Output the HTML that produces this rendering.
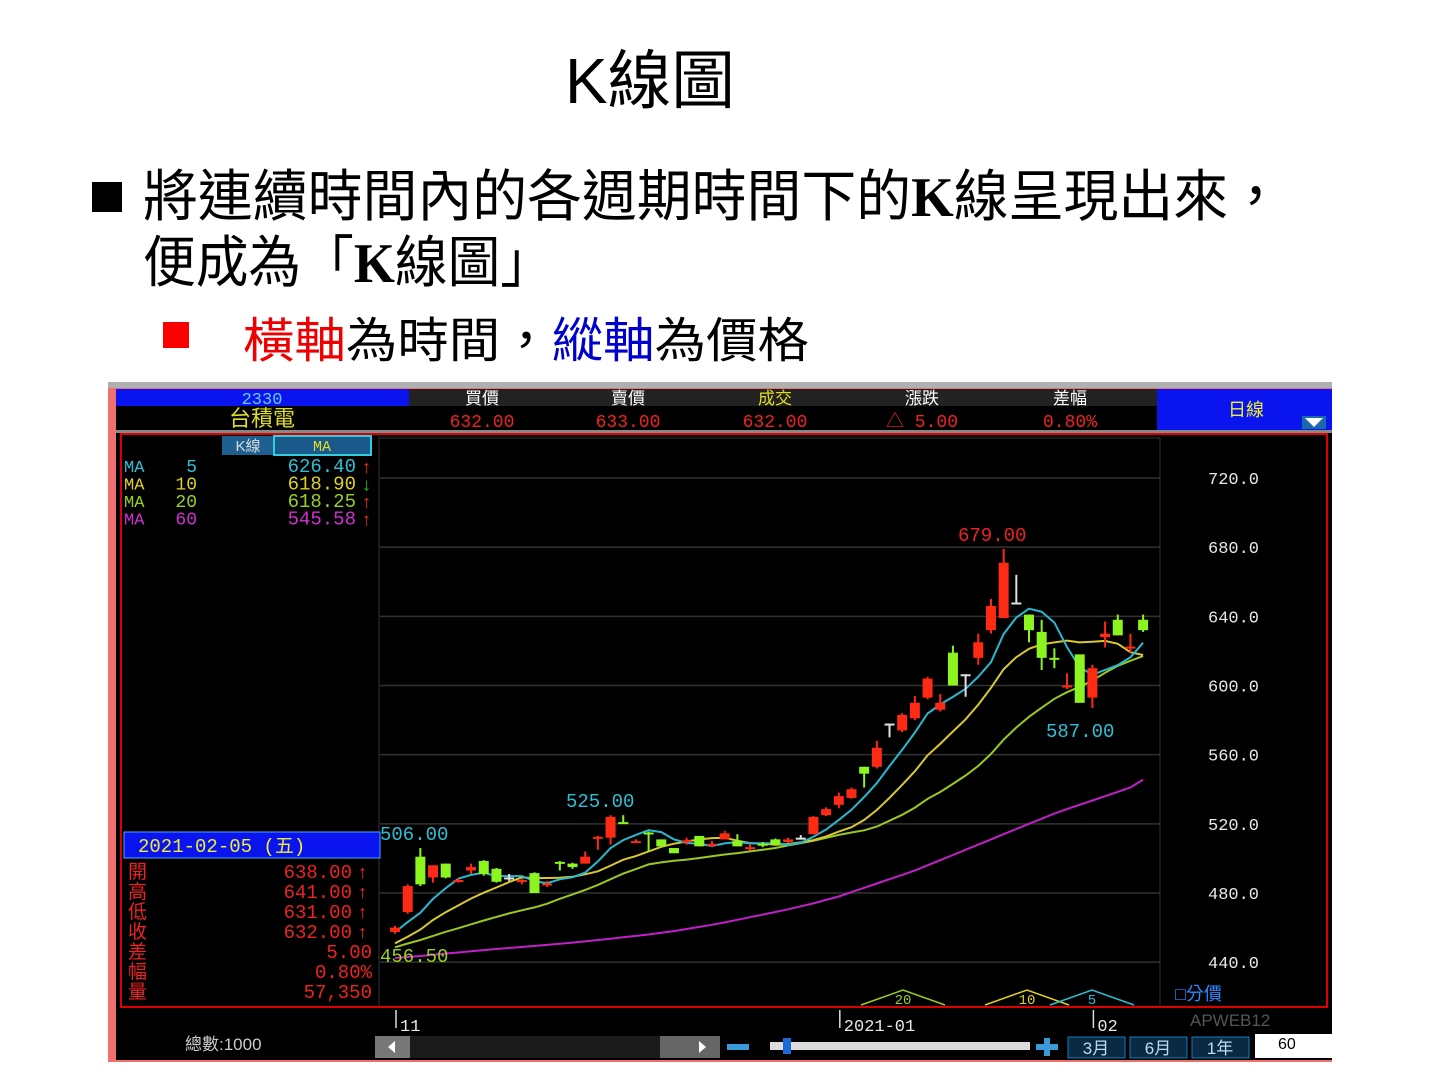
<!DOCTYPE html>
<html><head><meta charset="utf-8">
<style>
html,body{margin:0;padding:0;background:#fff;width:1440px;height:1080px;overflow:hidden}
svg{position:absolute;left:0;top:0}
.m{font-family:"Liberation Mono","Noto Sans CJK TC",monospace}
.s{font-family:"Liberation Sans","Noto Sans CJK TC",sans-serif}
</style></head><body>
<svg id="root" width="1440" height="1080" viewBox="0 0 1440 1080">
 <g class="s">
  <text x="565" y="103" font-size="64" textLength="170" lengthAdjust="spacingAndGlyphs">K線圖</text>
  <rect x="92" y="182" width="30" height="30" fill="#000"/>
  <text x="143" y="216" font-size="56" textLength="1140" lengthAdjust="spacingAndGlyphs">將連續時間內的各週期時間下的<tspan font-family="Liberation Serif" font-weight="bold">K</tspan>線呈現出來，</text>
  <text x="143" y="282" font-size="56" textLength="410" lengthAdjust="spacingAndGlyphs">便成為「<tspan font-family="Liberation Serif" font-weight="bold">K</tspan>線圖」</text>
  <rect x="163" y="322" width="26" height="26" fill="#f00"/>
  <text x="243" y="357" font-size="48" textLength="566" lengthAdjust="spacingAndGlyphs"><tspan fill="#e00">橫軸</tspan>為時間，<tspan fill="#0000cc">縱軸</tspan>為價格</text>
 </g>
 <g id="app"></g>
</svg>
<script>
// ---- chart data ----
const opens  = [457.5,469,501,489,497,487,493,498.5,494,489,486.5,491.5,485,498,497,497,512,512,521,509,515,511,506,509.5,513,507.5,511,510,505.5,508.5,511,509.5,512,514,525,531,535,553,553,578,574,581,593,586,619,606.5,616,632,639,648,641,631,616,599,618,593,628,638,621.5,638];
const closes = [460,484,485,496,489,487.5,495,491,486.5,489,487.5,480,485.5,497.5,495,501,512.5,524,520.5,510,514.5,507,503,510.5,507,508.5,514.5,507,506.5,507.5,508,511,512,524,528.5,536,540,549,564,578,583,590,604,590,600,606.5,625,646,671,648,632,616,615,600,590,610,630,629,622.5,632];
const highs  = [461,485,506,496,497,488.5,497,499,494.5,491,488,492,487,498.5,497.5,504,513,525,525,511,515.5,511,506,512,513,510,516,514,508,509.5,511.5,512,513.5,524.5,529.5,538,541,553,568,578,584,594,605,595,623,606.5,630,650,679,664,641,638,621.5,607,618,612,637,641,630,641];
const lows   = [456.5,468,484,486,488.5,486,491,490,486,487,485,480,483.5,493,494,497,505,508,520,509,504,507,503,508,507,506.5,511,507,504.5,506.5,508,509,511,514,524.5,529,534.5,541,552,570,573,580,592,585,600,593.5,612,630,639,648,625,609,610,598,590,587,622,629,619,631];
const priorCloses = [440,445,448,442,446,450,447,444,449,452,446,443,441,444,448,455,458,456,458];
const ma60 = [442.4,443,443.6,444.3,445,445.6,446.3,447,447.6,448.2,448.8,449.4,450,450.6,451.3,452,452.8,453.6,454.4,455.2,456,457,458,459.2,460.4,461.6,463,464.5,466,467.5,469,470.6,472.3,474,476,478,480.5,483,485.5,488,490.5,493,496,499,502,505,508,511,514,517,520,523,526,528.5,531,533.5,536,538.5,541,545.6];
const yTicks = [720,680,640,600,560,520,480,440];
const xTickIdx = [0,35,55];
const xTickLabels = ["11","2021-01","02"];

const NS="http://www.w3.org/2000/svg";
const app=document.getElementById('app');
function el(tag,attrs,parent,txt){const e=document.createElementNS(NS,tag);for(const k in attrs)e.setAttribute(k,attrs[k]);if(txt!==undefined)e.textContent=txt;(parent||app).appendChild(e);return e;}
const yS=p=>478+(720-p)*1.7292;
const xS=i=>395+i*12.68;

let e;
e=el('rect',{x:108,y:382,width:1224,height:680,fill:'#f07070'});


el('rect',{x:108,y:382,width:1224,height:6,fill:'#b0b0b0'});
el('rect',{x:116,y:389,width:1216,height:671,fill:'#000'});
// header
e=el('g',{});


el('rect',{x:116,y:389,width:293,height:17,fill:'#0a14ee'},e);
el('rect',{x:409,y:389,width:748,height:17,fill:'#222'},e);
el('text',{x:262,y:404,'font-size':17,fill:'#6cf','text-anchor':'middle',class:'m'},e,'2330');
el('text',{x:262,y:426,'font-size':22,fill:'#dd2','text-anchor':'middle',class:'s'},e,'台積電');
const hl=['買價','賣價','成交','漲跌','差幅'], hv=['632.00','633.00','632.00','△ 5.00','0.80%'], hx=[482,628,775,922,1070];
for(let i=0;i<5;i++){
 el('text',{x:hx[i],y:404,'font-size':17,fill:i==2?'#dd2':'#fff','text-anchor':'middle',class:'s'},e,hl[i]);
 el('text',{x:hx[i],y:427,'font-size':18,fill:'#e22','text-anchor':'middle',class:'m'},e,hv[i]);
}
e=el('g',{});


el('rect',{x:1157,y:389,width:175,height:41,fill:'#0a14ee'},e);
el('text',{x:1246,y:416,'font-size':18,fill:'#ee3','text-anchor':'middle',class:'s'},e,'日線');
el('rect',{x:1302,y:416,width:24,height:13,fill:'#1a6aaa'},e);
el('path',{d:'M1305,418 L1323,418 L1314,427 Z',fill:'#fff'},e);
el('rect',{x:116,y:430,width:1216,height:3,fill:'#888'});
el('rect',{x:121,y:434,width:1206,height:573,fill:'#000',stroke:'#d00',"stroke-width":2});
el('line',{x1:379,y1:436,x2:379,y2:1006,stroke:'#333'});
el('line',{x1:1160,y1:438,x2:1160,y2:1006,stroke:'#333'});
el('line',{x1:380,y1:438,x2:1160,y2:438,stroke:'#333'});
const grid=el('g',{});


yTicks.forEach(t=>{
 const l=el('line',{x1:380,y1:yS(t),x2:1160,y2:yS(t),stroke:'#333','stroke-width':1.5},grid);
 
 
 const tx=el('text',{x:1208,y:yS(t)+6,'font-size':17,fill:'#e8e8e8',class:'m'},grid,t.toFixed(1));
 
 
});
// left panel
const lp=el('g',{});


el('rect',{x:222,y:436,width:52,height:19,fill:'#1d5f8f'},lp);
el('text',{x:248,y:451,'font-size':15,fill:'#ddd','text-anchor':'middle',class:'s'},lp,'K線');
const tab=el('rect',{x:274,y:436,width:97,height:19,fill:'#1a5a8a',stroke:'#3cd',"stroke-width":2},lp);


el('text',{x:322,y:451,'font-size':15,fill:'#dd2','text-anchor':'middle',class:'m'},lp,'MA');
const maN=['5','10','20','60'], maV=['626.40','618.90','618.25','545.58'], maC=['#2cc0d8','#e0d020','#9ad020','#d030d0'];
for(let i=0;i<4;i++){
 const y=472+i*17.5;
 el('text',{x:124,y:y,'font-size':17,fill:maC[i],class:'m'},lp,'MA');
 el('text',{x:197,y:y,'font-size':18,fill:maC[i],'text-anchor':'end',class:'m'},lp,maN[i]);
 el('text',{x:356,y:y,'font-size':19,fill:maC[i],'text-anchor':'end',class:'m'},lp,maV[i]);
 el('text',{x:362,y:y+1,'font-size':18,'font-weight':'bold',fill:i==1?'#2c2':'#f22',class:'s'},lp,i==1?'↓':'↑');
}
const db=el('g',{});


el('rect',{x:124,y:832,width:256,height:26,fill:'#0a14ee',stroke:'#4af'},db);
el('text',{x:138,y:852,'font-size':19,fill:'#ee3',class:'m'},db,'2021-02-05 (五)');
const il=['開','高','低','收','差','幅','量'], iv=['638.00','641.00','631.00','632.00','5.00','0.80%','57,350'];
for(let i=0;i<7;i++){
 const y=878+i*20;
 el('text',{x:128,y:y,'font-size':19,fill:'#e22',class:'s'},db,il[i]);
 el('text',{x:i<4?352:372,y:y,'font-size':19,fill:'#e22','text-anchor':'end',class:'m'},db,iv[i]);
 if(i<4) el('text',{x:358,y:y,'font-size':18,'font-weight':'bold',fill:'#f22',class:'s'},db,'↑');
}
const all=priorCloses.concat(closes);
function ma(n){return closes.map((c,i)=>{const j=i+priorCloses.length;let s=0;for(let k=j-n+1;k<=j;k++)s+=all[k];return s/n;});}
function line(arr,color,name){
 const p=el('path',{d:arr.map((v,i)=>(i?'L':'M')+xS(i).toFixed(1)+','+yS(v).toFixed(1)).join(' '),fill:'none',stroke:color,'stroke-width':2});
 
 
}
line(ma60,'#c020c8','ma60-line');
line(ma(20),'#9ac820','ma20-line');
line(ma(10),'#d8c830','ma10-line');
line(ma(5),'#28b8d0','ma5-line');
const cg=el('g',{});


closes.forEach((c,i)=>{
 const o=opens[i],x=xS(i);
 const col=c>o?'#ff2a14':(c<o?'#8cf520':'#e0e0e0');
 const g=el('g',{},cg);
 
 
 el('line',{x1:x,y1:yS(highs[i]),x2:x,y2:yS(lows[i]),stroke:col,'stroke-width':2},g);
 const top=yS(Math.max(o,c)),bot=yS(Math.min(o,c));
 el('rect',{x:x-5,y:top,width:10,height:Math.max(bot-top,2),fill:col},g);
});
const an=[[958,541,'679.00','#e22'],[1046,737,'587.00','#2cc0d8'],[566,807,'525.00','#2cc0d8'],[380,840,'506.00','#2cc0d8'],[380,962,'456.50','#9ad020']];
an.forEach(a=>{const t=el('text',{x:a[0],y:a[1],'font-size':19,fill:a[3],class:'m'},app,a[2]);
 
 });
[[903,'20','#9ad020'],[1027,'10','#e0d020'],[1092,'5','#2cc0d8']].forEach(t=>{
 const g=el('g',{});
 
 
 el('path',{d:`M${t[0]-42},1005 L${t[0]},990 L${t[0]+42},1005`,fill:'none',stroke:t[2],'stroke-width':1.5},g);
 el('text',{x:t[0],y:1004,'font-size':14,fill:t[2],'text-anchor':'middle',class:'m'},g,t[1]);
});
e=el('text',{x:1175,y:1000,'font-size':18,fill:'#2a8aff',class:'s'},app,'□分價');


xTickIdx.forEach((idx,k)=>{
 const x=xS(idx)+1;
 el('line',{x1:x,y1:1010,x2:x,y2:1028,stroke:'#ddd','stroke-width':1.5});
 const t=el('text',{x:x+4,y:1031,'font-size':17,fill:'#e8e8e8',class:'m'},app,xTickLabels[k]);
 
 
});
el('text',{x:1190,y:1026,'font-size':17,fill:'#555',class:'s'},app,'APWEB12');
el('text',{x:185,y:1050,'font-size':17,fill:'#ccc',class:'s'},app,'總數:1000');
e=el('g',{});


el('rect',{x:375,y:1036,width:345,height:22,fill:'#1a1a1a'},e);
el('rect',{x:375,y:1036,width:35,height:22,fill:'#777'},e);
el('rect',{x:660,y:1036,width:60,height:22,fill:'#666'},e);
el('path',{d:'M388,1047 L395,1041 L395,1053 Z',fill:'#fff'},e);
el('path',{d:'M706,1047 L699,1041 L699,1053 Z',fill:'#fff'},e);
el('rect',{x:727,y:1044,width:22,height:6,fill:'#3a9ad8'});
e=el('g',{});


el('rect',{x:770,y:1042,width:260,height:8,fill:'#ddd'},e);
el('rect',{x:783,y:1038,width:8,height:16,fill:'#1a6ad8'},e);
el('path',{d:'M1036,1044 h8 v-6 h6 v6 h8 v6 h-8 v6 h-6 v-6 h-8 Z',fill:'#3a9ad8'});
['3月','6月','1年'].forEach((b,i)=>{
 const g=el('g',{});
 
 
 el('rect',{x:1068+i*62,y:1037,width:57,height:21,fill:'#0a2a44',stroke:'#1a7ab8'},g);
 el('text',{x:1096+i*62,y:1054,'font-size':17,fill:'#bde','text-anchor':'middle',class:'s'},g,b);
});
e=el('g',{});


el('rect',{x:1255,y:1034,width:77,height:24,fill:'#fff'},e);
el('text',{x:1278,y:1049,'font-size':16,fill:'#000',class:'s'},e,'60');
</script>
</body></html>
